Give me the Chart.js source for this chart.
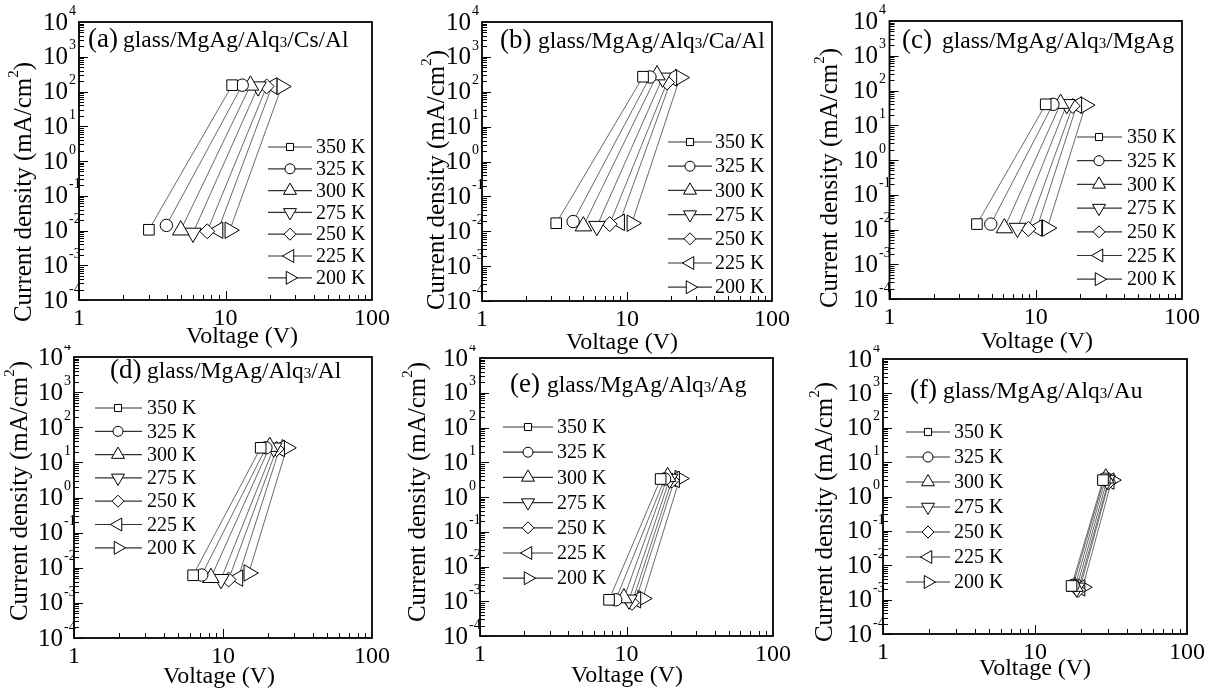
<!DOCTYPE html>
<html>
<head>
<meta charset="utf-8">
<script src="https://cdn.jsdelivr.net/npm/chart.js"></script>
<style>
html, body { margin: 0; padding: 0; background: #fff; }
#wrap { position: relative; width: 1208px; height: 690px; overflow: hidden; }
#wrap canvas { position: absolute; }
</style>
</head>
<body>
<div id="wrap"></div>
<script>
var temps = ['350 K', '325 K', '300 K', '275 K', '250 K', '225 K', '200 K'];
var xTickLabels = [1, 10, 100];
var yExponents = [-4, -3, -2, -1, 0, 1, 2, 3, 4];

// (a) glass/MgAg/Alq3/Cs/Al
var aLowV  = [3.0, 3.95, 4.95, 6.0, 7.5, 8.9, 10.7];
var aLowJ  = [0.0105, 0.014, 0.0102, 0.0085, 0.0095, 0.0102, 0.0102];
var aHighV = [11.1, 13.0, 14.8, 16.7, 19.1, 20.8, 24.2];
var aHighJ = [152, 152, 150, 138, 140, 145, 140];

// (b) glass/MgAg/Alq3/Ca/Al
var bLowV  = [3.25, 4.25, 5.0, 6.2, 7.6, 8.9, 10.8];
var bLowJ  = [0.017, 0.019, 0.014, 0.014, 0.016, 0.018, 0.017];
var bHighV = [12.9, 14.4, 16.1, 17.6, 18.9, 20.4, 23.2];
var bHighJ = [270, 265, 300, 250, 185, 250, 255];

// (c) glass/MgAg/Alq3/MgAg
var cLowV  = [3.96, 4.93, 6.1, 7.5, 8.9, 10.2, 12.0];
var cLowJ  = [0.0143, 0.0143, 0.011, 0.011, 0.0104, 0.011, 0.011];
var cHighV = [11.7, 13.1, 14.8, 16.3, 17.9, 19.1, 21.9];
var cHighJ = [40, 40, 42, 40, 36, 38, 38];

// (d) glass/MgAg/Alq3/Al
var dLowV  = [6.3, 7.2, 8.3, 9.7, 10.9, 12.6, 14.9];
var dLowJ  = [0.0061, 0.0062, 0.0052, 0.0047, 0.0046, 0.0051, 0.0071];
var dHighV = [17.9, 19.4, 20.6, 21.9, 22.9, 24.0, 26.8];
var dHighJ = [26, 26, 28, 26, 24, 25, 26];

// (e) glass/MgAg/Alq3/Ag
var eLowV  = [7.6, 8.45, 9.6, 10.4, 10.9, 11.6, 12.9];
var eLowJ  = [0.0011, 0.0011, 0.00124, 0.0011, 0.0009, 0.0011, 0.0012];
var eHighV = [17.1, 18.2, 19.1, 19.7, 20.4, 21.3, 23.1];
var eHighJ = [3.3, 3.3, 3.8, 3.3, 3.0, 3.2, 3.4];

// (f) glass/MgAg/Alq3/Au
var fLowV  = [17.4, 17.8, 18.3, 18.8, 19.2, 19.8, 20.6];
var fLowJ  = [0.0025, 0.0026, 0.0024, 0.0022, 0.0019, 0.0022, 0.0023];
var fHighV = [28.0, 28.5, 29.2, 29.8, 30.3, 30.8, 32.0];
var fHighJ = [3.0, 3.2, 3.4, 3.0, 2.6, 2.8, 3.0];

var SERIF = "'Liberation Serif', 'DejaVu Serif', serif";
var markerStyles = ['rect', 'circle', 'triangle', 'triangle', 'rectRot', 'triangle', 'triangle'];
var markerRot = [0, 0, 0, 180, 0, -90, 90];
var markerSize = [7.5, 6.2, 9.5, 9.5, 7.5, 9.5, 9.5];
var legendSize = [5, 5, 7.5, 7.5, 6, 7.5, 7.5];

// absolute page geometry of each panel (plot box, legend, texts)
var panels = [
  { tag: '(a)', tail: '/Cs/Al', low: [aLowV, aLowJ], high: [aHighV, aHighJ],
    cell: [0, 0, 402, 355], box: [79, 22, 372, 300],
    title: [88, 123, 47], leg: [268, 312, 290, 316, 147, 21.8],
    xt: [242, 343], yt: [24, 192], yl: 68 },
  { tag: '(b)', tail: '/Ca/Al', low: [bLowV, bLowJ], high: [bHighV, bHighJ],
    cell: [402, 0, 402, 355], box: [482, 22, 772, 301],
    title: [500, 538, 48], leg: [668, 712, 690, 715, 142, 24.2],
    xt: [622, 349], yt: [437, 180], yl: 471 },
  { tag: '(c)', tail: '/MgAg', low: [cLowV, cLowJ], high: [cHighV, cHighJ],
    cell: [804, 0, 404, 355], box: [889.5, 21, 1182, 299],
    title: [902, 942, 48], leg: [1077, 1122, 1099, 1127, 137, 23.7],
    xt: [1037, 348], yt: [830, 178], yl: 878 },
  { tag: '(d)', tail: '/Al', low: [dLowV, dLowJ], high: [dHighV, dHighJ],
    cell: [0, 345, 402, 345], box: [74, 357, 372, 638],
    title: [110, 147, 378], leg: [95, 142, 118, 147, 408, 23.3],
    xt: [219, 683], yt: [20, 491], yl: 63 },
  { tag: '(e)', tail: '/Ag', low: [eLowV, eLowJ], high: [eHighV, eHighJ],
    cell: [402, 345, 402, 345], box: [480, 358, 773, 636],
    title: [510, 547, 392], leg: [503, 553, 528, 557, 427, 25.2],
    xt: [627, 682], yt: [418, 492], yl: 468 },
  { tag: '(f)', tail: '/Au', low: [fLowV, fLowJ], high: [fHighV, fHighJ],
    cell: [804, 345, 404, 345], box: [883, 359, 1187, 634],
    title: [910, 943, 398], leg: [906, 950, 928, 954, 432, 25],
    xt: [1035, 675], yt: [825, 512], yl: 872 }
];

function drawMarker(ctx, style, rot, x, y, r) {
  ctx.beginPath();
  if (style === 'circle') {
    ctx.arc(x, y, r, 0, Math.PI * 2);
  } else if (style === 'rect') {
    var s = r * Math.SQRT1_2;
    ctx.rect(x - s, y - s, 2 * s, 2 * s);
  } else if (style === 'rectRot') {
    ctx.moveTo(x, y - r); ctx.lineTo(x + r, y); ctx.lineTo(x, y + r); ctx.lineTo(x - r, y);
  } else {
    var a = rot * Math.PI / 180;
    for (var k = 0; k < 3; k++) {
      var px = x + Math.sin(a) * r, py = y - Math.cos(a) * r;
      if (k === 0) ctx.moveTo(px, py); else ctx.lineTo(px, py);
      a += 2 * Math.PI / 3;
    }
  }
  ctx.closePath();
  ctx.fillStyle = '#fff';
  ctx.fill();
  ctx.stroke();
}

var decor = {
  id: 'decor',
  afterDraw: function (chart) {
    var p = chart.options.plugins.decor.panel;
    var ctx = chart.ctx, xs = chart.scales.x, ys = chart.scales.y;
    var ox = p.cell[0], oy = p.cell[1];
    var L = xs.left + ox, R = xs.right + ox, T = ys.top + oy, B = ys.bottom + oy;
    ctx.save();
    ctx.translate(-ox, -oy);
    ctx.strokeStyle = '#000';
    ctx.fillStyle = '#000';

    // inward ticks
    ctx.lineWidth = 1;
    ctx.beginPath();
    for (var e = -4; e < 4; e++) {
      for (var m = 1; m < 10; m++) {
        var yy = Math.round(ys.getPixelForValue(m * Math.pow(10, e)) + oy) + 0.5;
        ctx.moveTo(L, yy); ctx.lineTo(L + (m === 1 ? 9 : 5), yy);
      }
    }
    for (var d = 0; d < 2; d++) {
      for (var n = 1; n < 10; n++) {
        var xx = Math.round(xs.getPixelForValue(n * Math.pow(10, d)) + ox) + 0.5;
        ctx.moveTo(xx, B); ctx.lineTo(xx, B - (n === 1 ? 9 : 5));
      }
    }
    ctx.stroke();

    // frame
    ctx.lineWidth = 1.8;
    ctx.strokeRect(L, T, R - L, B - T);

    // y tick labels 10^n
    ctx.textBaseline = 'middle';
    yExponents.forEach(function (ex) {
      var y = ys.getPixelForValue(Math.pow(10, ex)) + oy;
      ctx.font = '25px ' + SERIF;
      ctx.textAlign = 'right';
      ctx.fillText('10', p.yl, y + 1);
      ctx.font = '14px ' + SERIF;
      ctx.textAlign = 'left';
      ctx.fillText(String(ex), p.yl + 1, y - 11);
    });

    // x tick labels
    ctx.font = '24px ' + SERIF;
    ctx.textAlign = 'center';
    ctx.textBaseline = 'top';
    xTickLabels.forEach(function (v) {
      ctx.fillText(String(v), xs.getPixelForValue(v) + ox, B + 7);
    });

    // axis titles
    ctx.textBaseline = 'alphabetic';
    ctx.fillText('Voltage (V)', p.xt[0], p.xt[1]);
    ctx.save();
    ctx.translate(p.yt[0], p.yt[1]);
    ctx.rotate(-Math.PI / 2);
    ctx.textBaseline = 'middle';
    ctx.textAlign = 'left';
    var s1 = 'Current density (mA/cm', s3 = ')';
    ctx.font = '25px ' + SERIF;
    var w1 = ctx.measureText(s1).width, w3 = ctx.measureText(s3).width;
    ctx.font = '15px ' + SERIF;
    var w2 = ctx.measureText('2').width;
    var x0 = -(w1 + w2 + w3) / 2;
    ctx.font = '25px ' + SERIF;
    ctx.fillText(s1, x0, 0);
    ctx.fillText(s3, x0 + w1 + w2, 0);
    ctx.font = '15px ' + SERIF;
    ctx.fillText('2', x0 + w1, -10);
    ctx.restore();

    // panel title
    ctx.textAlign = 'left';
    ctx.font = '27px ' + SERIF;
    ctx.fillText(p.tag, p.title[0], p.title[2]);
    var tx = p.title[1];
    ctx.font = '23.5px ' + SERIF;
    ctx.fillText('glass/MgAg/Alq', tx, p.title[2]);
    tx += ctx.measureText('glass/MgAg/Alq').width;
    ctx.font = '15px ' + SERIF;
    ctx.fillText('3', tx, p.title[2]);
    tx += ctx.measureText('3').width;
    ctx.font = '23.5px ' + SERIF;
    ctx.fillText(p.tail, tx, p.title[2]);

    // legend
    var g = p.leg;
    ctx.font = '20px ' + SERIF;
    ctx.textBaseline = 'middle';
    temps.forEach(function (t, i) {
      var y = g[4] + i * g[5];
      ctx.lineWidth = 1.2;
      ctx.strokeStyle = '#333';
      ctx.beginPath();
      ctx.moveTo(g[0], y); ctx.lineTo(g[1], y);
      ctx.stroke();
      ctx.strokeStyle = '#000';
      ctx.lineWidth = 1;
      drawMarker(ctx, markerStyles[i], markerRot[i], g[2], y, legendSize[i]);
      ctx.fillStyle = '#000';
      ctx.fillText(t, g[3], y + 1);
    });
    ctx.restore();
  }
};

var wrap = document.getElementById('wrap');
panels.forEach(function (p) {
  var cv = document.createElement('canvas');
  cv.width = p.cell[2];
  cv.height = p.cell[3];
  cv.style.left = p.cell[0] + 'px';
  cv.style.top = p.cell[1] + 'px';
  cv.style.width = p.cell[2] + 'px';
  cv.style.height = p.cell[3] + 'px';
  wrap.appendChild(cv);

  var datasets = temps.map(function (t, i) {
    return {
      label: t,
      data: [{ x: p.low[0][i], y: p.low[1][i] }, { x: p.high[0][i], y: p.high[1][i] }],
      borderColor: '#444',
      borderWidth: 0.8,
      fill: false,
      tension: 0,
      pointStyle: markerStyles[i],
      pointRotation: markerRot[i],
      pointRadius: markerSize[i],
      pointBackgroundColor: '#fff',
      pointBorderColor: '#000',
      pointBorderWidth: 1,
      clip: false
    };
  });

  new Chart(cv, {
    type: 'line',
    data: { datasets: datasets },
    options: {
      responsive: false,
      animation: false,
      devicePixelRatio: 1,
      layout: {
        padding: {
          left: p.box[0] - p.cell[0],
          top: p.box[1] - p.cell[1],
          right: p.cell[0] + p.cell[2] - p.box[2],
          bottom: p.cell[1] + p.cell[3] - p.box[3]
        }
      },
      plugins: {
        legend: { display: false },
        tooltip: { enabled: false },
        decor: { panel: p }
      },
      scales: {
        x: { type: 'logarithmic', min: 1, max: 100, display: false },
        y: { type: 'logarithmic', min: 1e-4, max: 1e4, display: false }
      }
    },
    plugins: [decor]
  });
});
</script>
</body>
</html>
